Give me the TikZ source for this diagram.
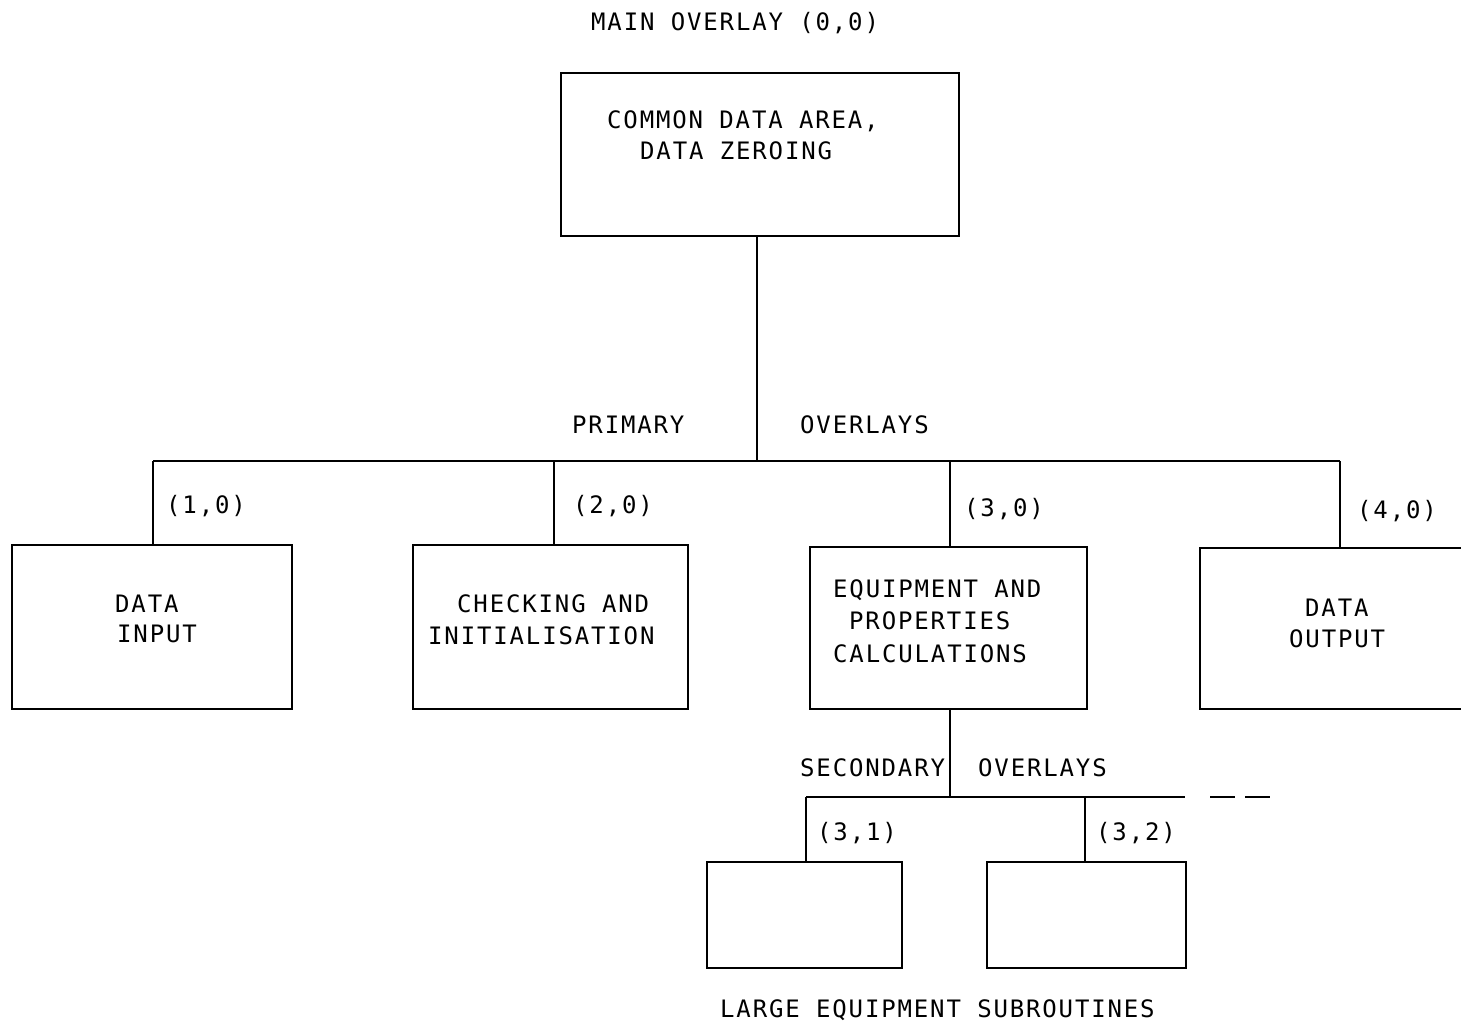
\documentclass[tikz,border=0pt]{standalone}
\usepackage{fontspec}
\setmonofont[LetterSpace=7.7]{DejaVu Sans Mono}
\begin{document}
\begin{tikzpicture}[x=1pt,y=-1pt,
  box/.style={draw,line width=1.6pt,inner sep=0pt,minimum width=#1},
  txt/.style={anchor=base west,inner sep=0pt,font=\ttfamily\fontsize{24}{28}\selectfont},
  ln/.style={line width=1.6pt}]
\clip (0,0) rectangle (1461,1024);
\fill[white] (0,0) rectangle (1461,1024);
% boxes
\node[box=398pt,minimum height=163pt] (main) at (760,154.5) {};
\node[box=280pt,minimum height=164pt] (in) at (152,627) {};
\node[box=275pt,minimum height=164pt] (chk) at (550.5,627) {};
\node[box=277pt,minimum height=162pt] (eq) at (948.5,628) {};
\node[box=280pt,minimum height=161pt] (out) at (1340,628.5) {};
\node[box=195pt,minimum height=106pt] (s1) at (804.5,915) {};
\node[box=199pt,minimum height=106pt] (s2) at (1086.5,915) {};
% bus coordinates
\coordinate (b0) at (757,461);
\coordinate (bl) at (153,461);
\coordinate (br) at (1340,461);
\coordinate (b2) at (554,461);
\coordinate (b3) at (950,461);
\coordinate (c0) at (950,797);
\coordinate (cl) at (806,797);
\coordinate (c2) at (1085,797);
\coordinate (cr) at (1185,797);
\coordinate (d1) at (1210,797);
\coordinate (d2) at (1270,797);
% connectors
\draw[ln] (main.south -| b0) -- (b0);
\draw[ln] (bl) -- (br);
\draw[ln] (bl) -- (bl |- in.north);
\draw[ln] (b2) -- (b2 |- chk.north);
\draw[ln] (b3) -- (b3 |- eq.north);
\draw[ln] (br) -- (br |- out.north);
\draw[ln] (eq.south -| c0) -- (c0);
\draw[ln] (cl) -- (cr);
\draw[ln,dash pattern=on 25pt off 10pt] (d1) -- (d2);
\draw[ln] (cl) -- (cl |- s1.north);
\draw[ln] (c2) -- (c2 |- s2.north);
% texts
\node[txt] (t0) at (591,31) {MAIN OVERLAY (0,0)};
\node[txt] (m1) at (607,129) {COMMON DATA AREA,};
\node[txt] (m2) at (640,160) {DATA ZEROING};
\node[txt] (p1) at (572,433) {PRIMARY};
\node[txt] (p2) at (800,433) {OVERLAYS};
\node[txt] (l1) at (166,513) {(1,0)};
\node[txt] (l2) at (573,513) {(2,0)};
\node[txt] (l3) at (964,516) {(3,0)};
\node[txt] (l4) at (1357,518) {(4,0)};
\node[txt] (i1) at (115,612) {DATA};
\node[txt] (i2) at (117,642) {INPUT};
\node[txt] (k1) at (457,612) {CHECKING AND};
\node[txt] (k2) at (428,644) {INITIALISATION};
\node[txt] (e1) at (833,597) {EQUIPMENT AND};
\node[txt] (e2) at (849,629) {PROPERTIES};
\node[txt] (e3) at (833,662) {CALCULATIONS};
\node[txt] (o1) at (1305,616) {DATA};
\node[txt] (o2) at (1289,647) {OUTPUT};
\node[txt] (s1t) at (800,776) {SECONDARY};
\node[txt] (s2t) at (978,776) {OVERLAYS};
\node[txt] (q1) at (817,840) {(3,1)};
\node[txt] (q2) at (1096,840) {(3,2)};
\node[txt] (lg) at (720,1017) {LARGE EQUIPMENT SUBROUTINES};
\end{tikzpicture}
\end{document}
